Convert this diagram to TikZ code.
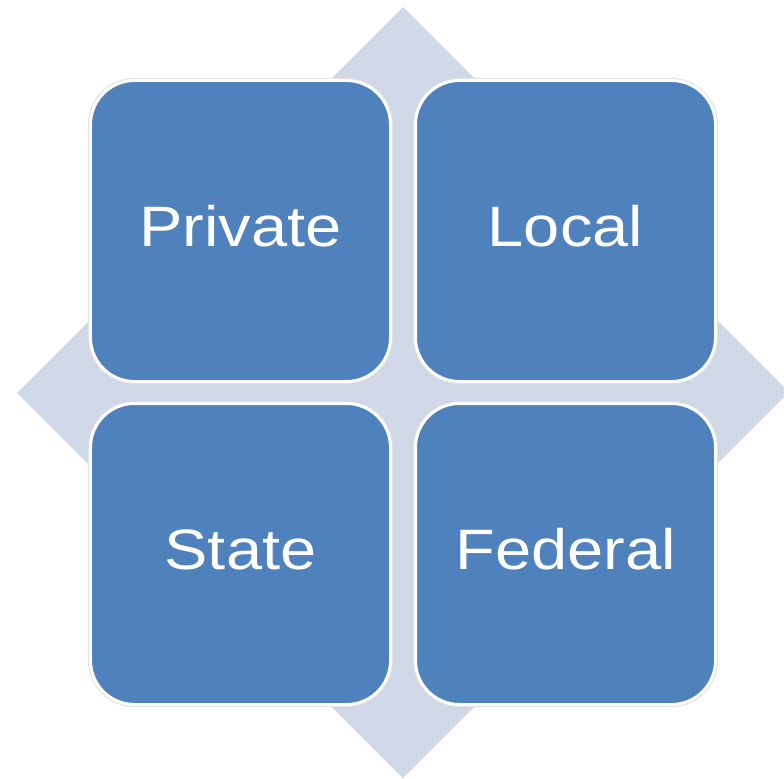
\documentclass[tikz,border=0pt]{standalone}
\usepackage{fontspec}
\setmainfont{Liberation Sans}[FakeStretch=1.14]
\usepackage{tikz}
\usepackage{xcolor}
\usetikzlibrary{positioning}
\definecolor{tileblue}{RGB}{79,129,189}
\definecolor{backdiamond}{RGB}{208,216,232}
\definecolor{tilehalo}{RGB}{222,222,226}

\begin{document}
\begin{tikzpicture}[
  x=1bp, y=-1bp,
  tile/.style={draw=white, line width=3bp, fill=tileblue, rounded corners=44bp,
    minimum width=300bp, minimum height=301bp, outer sep=0pt, inner sep=0pt,
    text=white, font=\fontsize{57bp}{60bp}\selectfont, text height=41bp, text depth=11bp,
    preaction={draw=tilehalo, line width=5bp}}
]
\useasboundingbox (0,0) rectangle (784,779);
% diamond behind the four tiles
\begin{scope}
\clip (0,0) rectangle (784,779);
\fill[backdiamond] (403,7) -- (789,392) -- (403,778) -- (17,393) -- cycle;
\end{scope}
\node[tile] (private) at (240.5,231) {Private};
\node[tile, right=25bp of private] (local) {Local};
\node[tile, below=22bp of private] (state) {State};
\node[tile, below=22bp of local] (federal) {Federal};
\end{tikzpicture}
\end{document}
